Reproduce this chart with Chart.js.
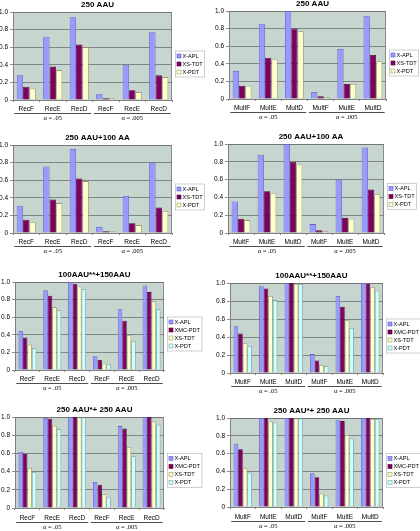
<!DOCTYPE html>
<html>
<head>
<meta charset="utf-8">
<script src="https://cdn.jsdelivr.net/npm/chart.js@4.4.0/dist/chart.umd.min.js"></script>
<style>
  body { margin: 0; background: #fff; }
  #wrap { position: relative; width: 420px; height: 531px; }
  canvas { position: absolute; }
</style>
</head>
<body>
<div id="wrap"></div>
<script>
// categories and labels
const recCats = ['RecF', 'RecE', 'RecD', 'RecF', 'RecE', 'RecD'];
const multCats = ['MultF', 'MultE', 'MultD', 'MultF', 'MultE', 'MultD'];
const alphaLabels = ['\u03b1 = .05', '\u03b1 = .005'];
const series3 = ['X-APL', 'XS-TDT', 'X-PDT'];
const series4 = ['X-APL', 'XMC-PDT', 'XS-TDT', 'X-PDT'];
const yTicks = [0, 0.2, 0.4, 0.6, 0.8, 1];

// 250 AAU
const rec250_apl = [0.28, 0.72, 0.94, 0.065, 0.40, 0.77];
const rec250_tdt = [0.15, 0.38, 0.63, 0.02, 0.11, 0.28];
const rec250_pdt = [0.13, 0.34, 0.60, 0.02, 0.09, 0.26];
const mult250_apl = [0.32, 0.85, 1.0, 0.08, 0.57, 0.94];
const mult250_tdt = [0.15, 0.47, 0.80, 0.03, 0.17, 0.50];
const mult250_pdt = [0.15, 0.45, 0.77, 0.02, 0.17, 0.43];

// 250 AAU+100 AA
const rec100aa_apl = [0.31, 0.755, 0.955, 0.07, 0.42, 0.80];
const rec100aa_tdt = [0.15, 0.38, 0.62, 0.02, 0.11, 0.29];
const rec100aa_pdt = [0.125, 0.34, 0.59, 0.02, 0.09, 0.25];
const mult100aa_apl = [0.355, 0.88, 1.0, 0.10, 0.60, 0.96];
const mult100aa_tdt = [0.16, 0.47, 0.80, 0.03, 0.17, 0.49];
const mult100aa_pdt = [0.145, 0.445, 0.77, 0.02, 0.16, 0.435];

// 100AAU**+150AAU
const rec150_apl = [0.445, 0.905, 1.0, 0.155, 0.69, 0.96];
const rec150_xmc = [0.37, 0.845, 0.98, 0.115, 0.56, 0.885];
const rec150_tdt = [0.29, 0.715, 0.95, 0.075, 0.395, 0.78];
const rec150_pdt = [0.25, 0.68, 0.92, 0.065, 0.33, 0.69];
const mult150_apl = [0.52, 0.97, 1.0, 0.21, 0.855, 1.0];
const mult150_xmc = [0.44, 0.94, 1.0, 0.14, 0.735, 0.99];
const mult150_tdt = [0.335, 0.855, 0.99, 0.09, 0.59, 0.955];
const mult150_pdt = [0.30, 0.81, 0.99, 0.075, 0.50, 0.915];

// 250 AAU*+ 250 AAU
const rec250b_apl = [0.615, 0.99, 1.0, 0.285, 0.90, 1.0];
const rec250b_xmc = [0.595, 0.98, 1.0, 0.255, 0.875, 1.0];
const rec250b_tdt = [0.44, 0.905, 0.995, 0.155, 0.67, 0.95];
const rec250b_pdt = [0.395, 0.87, 0.995, 0.115, 0.57, 0.915];
const mult250b_apl = [0.71, 1.0, 1.0, 0.38, 0.98, 1.0];
const mult250b_xmc = [0.65, 1.0, 1.0, 0.335, 0.965, 1.0];
const mult250b_tdt = [0.44, 0.96, 0.995, 0.15, 0.81, 0.99];
const mult250b_pdt = [0.385, 0.95, 0.995, 0.13, 0.77, 0.99];

const fills = ['#9999ff', '#800060', '#ffffcc', '#ccffff'];
const edges = ['#5c5cc8', '#50003a', '#9a9a70', '#7aa0a0'];

// panel placement: x, y, height, chart area [left, right, top, bottom] inside panel
const panels = [
  { x: 0,   y: 0,   h: 130, title: '250 AAU', cats: recCats, names: series3,
    data: [rec250_apl, rec250_tdt, rec250_pdt], area: [13, 172, 12, 100], tpad: 2 },
  { x: 210, y: 0,   h: 130, title: '250 AAU', cats: multCats, names: series3,
    data: [mult250_apl, mult250_tdt, mult250_pdt], area: [19, 176, 11, 99], tpad: 2 },
  { x: 0,   y: 130, h: 130, title: '250 AAU+100 AA', cats: recCats, names: series3,
    data: [rec100aa_apl, rec100aa_tdt, rec100aa_pdt], area: [13, 172, 15, 103], tpad: 2 },
  { x: 210, y: 130, h: 130, title: '250 AAU+100 AA', cats: multCats, names: series3,
    data: [mult100aa_apl, mult100aa_tdt, mult100aa_pdt], area: [18, 174, 14, 103], tpad: 2 },
  { x: 0,   y: 260, h: 135, title: '100AAU**+150AAU', cats: recCats, names: series4,
    data: [rec150_apl, rec150_xmc, rec150_tdt, rec150_pdt], area: [15, 164, 22, 110], tpad: 2 },
  { x: 210, y: 260, h: 135, title: '100AAU**+150AAU', cats: multCats, names: series4,
    data: [mult150_apl, mult150_xmc, mult150_tdt, mult150_pdt], area: [20, 173, 23, 113], tpad: 2 },
  { x: 0,   y: 395, h: 136, title: '250 AAU*+ 250 AAU', cats: recCats, names: series4,
    data: [rec250b_apl, rec250b_xmc, rec250b_tdt, rec250b_pdt], area: [15, 164, 22, 113], tpad: 3 },
  { x: 210, y: 395, h: 136, title: '250 AAU*+ 250 AAU', cats: multCats, names: series4,
    data: [mult250b_apl, mult250b_xmc, mult250b_tdt, mult250b_pdt], area: [20, 173, 23, 112], tpad: 3 }
];

const sansFont = '"Liberation Sans", Arial, sans-serif';
const serifFont = '"Liberation Serif", "Times New Roman", serif';

// draws plot background, title, legend and alpha group labels
const decor = {
  id: 'decor',
  beforeDraw(chart) {
    const { ctx, chartArea: a } = chart;
    ctx.save();
    ctx.fillStyle = '#c6d5cd';
    ctx.fillRect(a.left, a.top, a.right - a.left, a.bottom - a.top);
    ctx.strokeStyle = '#8a8a8a';
    ctx.lineWidth = 1;
    ctx.strokeRect(a.left + 0.5, a.top + 0.5, a.right - a.left - 1, a.bottom - a.top);
    ctx.restore();
  },
  afterDraw(chart) {
    const { ctx, chartArea: a } = chart;
    const p = chart.options.plugins.decor;
    const xs = chart.scales.x;
    ctx.save();

    // title
    ctx.fillStyle = '#000';
    ctx.font = 'bold 8px ' + sansFont;
    ctx.textAlign = 'center';
    ctx.textBaseline = 'middle';
    ctx.fillText(p.title, (a.left + a.right) / 2 + 5, a.top - 7);

    // legend
    ctx.font = '5.6px ' + sansFont;
    ctx.textAlign = 'left';
    let tw = 0;
    p.names.forEach(n => { tw = Math.max(tw, ctx.measureText(n).width); });
    const lx = a.right + 3;
    const lw = tw + 10;
    const lh = p.names.length * 8 + 3;
    const ly = (a.top + a.bottom) / 2 + 8 - lh / 2;
    ctx.fillStyle = '#fff';
    ctx.fillRect(lx, ly, lw, lh);
    ctx.strokeStyle = '#b0b0b0';
    ctx.lineWidth = 0.6;
    ctx.strokeRect(lx + 0.5, ly + 0.5, lw - 1, lh - 1);
    chart.data.datasets.forEach((ds, i) => {
      const cy = ly + 5.5 + i * 8;
      ctx.fillStyle = ds.backgroundColor;
      ctx.fillRect(lx + 2, cy - 2, 4, 4);
      ctx.strokeStyle = ds.borderColor;
      ctx.lineWidth = 0.6;
      ctx.strokeRect(lx + 2, cy - 2, 4, 4);
      ctx.fillStyle = '#000';
      ctx.fillText(p.names[i], lx + 7.5, cy);
    });

    // alpha groups
    const cw = xs.getPixelForValue(1) - xs.getPixelForValue(0);
    const ul = a.bottom + 13 + (p.tpad - 2);
    ctx.strokeStyle = '#000';
    ctx.lineWidth = 0.7;
    ctx.font = '6.5px ' + serifFont;
    ctx.textAlign = 'center';
    alphaLabels.forEach((lab, g) => {
      const x0 = xs.getPixelForValue(g * 3) - cw * 0.45;
      const x1 = xs.getPixelForValue(g * 3 + 2) + cw * 0.45;
      ctx.beginPath();
      ctx.moveTo(x0, ul + 0.5);
      ctx.lineTo(x1, ul + 0.5);
      ctx.stroke();
      ctx.fillStyle = '#000';
      ctx.fillText(lab, (x0 + x1) / 2, ul + 5);
    });
    ctx.restore();
  }
};

const wrap = document.getElementById('wrap');

panels.forEach(p => {
  const cv = document.createElement('canvas');
  cv.width = 210;
  cv.height = p.h;
  cv.style.left = p.x + 'px';
  cv.style.top = p.y + 'px';
  cv.style.width = '210px';
  cv.style.height = p.h + 'px';
  wrap.appendChild(cv);

  const [l, r, t, b] = p.area;
  new Chart(cv, {
    type: 'bar',
    data: {
      labels: p.cats,
      datasets: p.data.map((vals, i) => {
        const ci = p.names.length === 3 && i === 2 ? 2 : i;
        return {
          label: p.names[i],
          data: vals,
          backgroundColor: fills[ci],
          borderColor: edges[ci],
          borderWidth: 0.8,
          categoryPercentage: 0.72,
          barPercentage: 1.0
        };
      })
    },
    plugins: [decor],
    options: {
      responsive: false,
      animation: false,
      devicePixelRatio: 1,
      layout: { padding: { left: 0, right: 210 - r, top: t, bottom: p.h - b - 12 } },
      plugins: {
        legend: { display: false },
        tooltip: { enabled: false },
        decor: { title: p.title, names: p.names, tpad: p.tpad }
      },
      scales: {
        x: {
          afterFit: s => { s.height = 12; },
          grid: { display: true, drawOnChartArea: false, tickLength: 2, color: '#808080' },
          border: { color: '#808080' },
          ticks: { font: { size: 6.5, family: sansFont }, color: '#000', padding: 1 + p.tpad, maxRotation: 0, autoSkip: false }
        },
        y: {
          min: 0,
          max: 1,
          afterFit: s => { s.width = l; },
          afterBuildTicks: s => { s.ticks = yTicks.map(v => ({ value: v })); },
          grid: { color: '#707070', lineWidth: 0.8, tickLength: 3 },
          border: { color: '#808080' },
          ticks: { font: { size: 6.5, family: sansFont }, color: '#000', padding: 2 }
        }
      }
    }
  });
});
</script>
</body>
</html>
